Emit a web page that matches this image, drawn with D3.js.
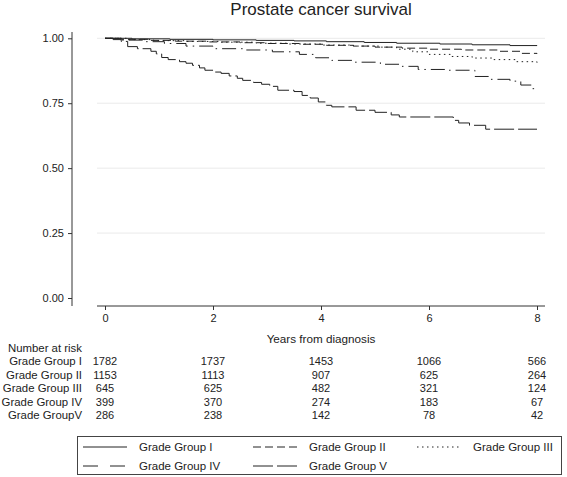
<!DOCTYPE html>
<html><head><meta charset="utf-8">
<script src="https://cdn.jsdelivr.net/npm/d3@7"></script>
<style>body{margin:0;background:#fff}text{font-family:"Liberation Sans",Arial,sans-serif;fill:#222}</style>
</head><body><svg id="c" width="567" height="477"></svg>
<script>
const groups = ["Grade Group I","Grade Group II","Grade Group III","Grade Group IV","Grade GroupV"];
const legendLabels = ["Grade Group I","Grade Group II","Grade Group III","Grade Group IV","Grade Group V"];
const xTicks = [0,2,4,6,8];
const yTicks = [0,0.25,0.5,0.75,1];
const yTickLabels = ["0.00","0.25","0.50","0.75","1.00"];
const timesI = [0,0.5,1.2,2.0,2.8,3.5,4.1,4.8,5.4,6.2,6.8,7.5,8];
const survI  = [1.0,0.998,0.996,0.994,0.992,0.990,0.987,0.984,0.981,0.978,0.975,0.972,0.971];
const timesII = [0,0.3,0.8,1.3,1.9,2.5,3.0,3.6,4.1,4.6,5.0,5.5,6.0,6.6,7.3,7.7,8];
const survII  = [1.0,0.996,0.992,0.989,0.986,0.983,0.980,0.977,0.973,0.970,0.966,0.962,0.958,0.955,0.950,0.942,0.940];
const timesIII = [0,0.4,0.9,1.5,2.1,2.8,3.4,4.0,4.6,5.1,5.4,5.7,6.0,6.4,6.8,7.2,7.6,8];
const survIII  = [1.0,0.995,0.991,0.988,0.985,0.981,0.978,0.974,0.970,0.966,0.958,0.948,0.938,0.930,0.924,0.918,0.910,0.906];
const timesIV = [0,0.3,0.7,1.1,1.5,2.0,2.6,3.1,3.6,3.9,4.2,4.6,5.1,5.5,5.8,6.3,6.85,7.1,7.5,7.7,7.9,8];
const survIV  = [1.0,0.993,0.987,0.980,0.970,0.960,0.955,0.948,0.938,0.925,0.915,0.908,0.900,0.892,0.880,0.877,0.853,0.842,0.835,0.820,0.806,0.804];
const timesV = [0,0.15,0.3,0.42,0.6,0.85,0.95,1.05,1.17,1.38,1.5,1.62,1.75,1.85,2.0,2.15,2.3,2.45,2.55,2.75,2.9,3.05,3.2,3.5,3.65,3.8,3.95,4.1,4.2,4.65,5.0,5.3,5.45,6.45,6.55,6.75,7.05,8];
const survV  = [1.0,0.995,0.988,0.968,0.96,0.95,0.94,0.926,0.918,0.91,0.904,0.896,0.886,0.877,0.87,0.865,0.855,0.846,0.838,0.83,0.823,0.815,0.8,0.795,0.78,0.77,0.755,0.742,0.736,0.723,0.715,0.705,0.697,0.684,0.674,0.665,0.65,0.65];
const riskI = [1782,1737,1453,1066,566];
const riskII = [1153,1113,907,625,264];
const riskIII = [645,625,482,321,124];
const riskIV = [399,370,274,183,67];
const riskV = [286,238,142,78,42];

const series = [
  {t:timesI,s:survI,dash:null},
  {t:timesII,s:survII,dash:"8,4"},
  {t:timesIII,s:survIII,dash:"1.5,3.5"},
  {t:timesIV,s:survIV,dash:"14,5,1.5,5"},
  {t:timesV,s:survV,dash:"20,4"}
];
const risks = [riskI,riskII,riskIII,riskIV,riskV];

const svg = d3.select("#c");
const x = d3.scaleLinear().domain([0,8]).range([105,537]);
const y = d3.scaleLinear().domain([0,1]).range([298,38.3]);

// title
svg.append("text").attr("x",321).attr("y",15).attr("text-anchor","middle").style("font-size","17px").text("Prostate cancer survival");

// grid
svg.append("g").selectAll("line").data(yTicks.filter(d=>d>0)).join("line")
  .attr("x1",97).attr("x2",545).attr("y1",d=>y(d)).attr("y2",d=>y(d))
  .attr("stroke","#eaeaea").attr("stroke-width",1);

// y axis
const yAxis = d3.axisLeft(y).tickValues(yTicks).tickSize(4).tickPadding(4).tickFormat((d,i)=>yTickLabels[i]);
const gy = svg.append("g").attr("transform","translate(72,0)").call(yAxis);
gy.select(".domain").remove();
gy.append("line").attr("x1",0).attr("x2",0).attr("y1",32).attr("y2",306).attr("stroke","#333");
gy.selectAll(".tick line").attr("stroke","#333");
gy.selectAll(".tick text").style("font-size","11px").style("font-family","Liberation Sans, Arial, sans-serif").attr("fill","#222");

// x axis
const xAxis = d3.axisBottom(x).tickValues(xTicks).tickSize(4).tickPadding(4);
const gx = svg.append("g").attr("transform","translate(0,306)").call(xAxis);
gx.select(".domain").remove();
gx.append("line").attr("x1",97).attr("x2",545).attr("y1",0).attr("y2",0).attr("stroke","#333");
gx.selectAll(".tick line").attr("stroke","#333");
gx.selectAll(".tick text").style("font-size","11px").style("font-family","Liberation Sans, Arial, sans-serif").attr("fill","#222");

svg.append("text").attr("x",321).attr("y",343).attr("text-anchor","middle").style("font-size","11.7px").text("Years from diagnosis");

// curves
const line = d3.line().x(d=>x(d[0])).y(d=>y(d[1])).curve(d3.curveStepAfter);
series.forEach(sr=>{
  const pts = sr.t.map((t,i)=>[t,sr.s[i]]);
  const p = svg.append("path").attr("d",line(pts)).attr("fill","none").attr("stroke","#222").attr("stroke-width",1);
  if(sr.dash) p.attr("stroke-dasharray",sr.dash);
});

// risk table
svg.append("text").attr("x",82).attr("y",352).attr("text-anchor","end").style("font-size","11.4px").text("Number at risk");
const rowY = [365,378.5,392,405.5,419];
groups.forEach((g,i)=>{
  svg.append("text").attr("x",82).attr("y",rowY[i]).attr("text-anchor","end").style("font-size","11.4px").text(g);
  svg.append("g").selectAll("text").data(risks[i]).join("text")
    .attr("x",(d,j)=>x(xTicks[j])).attr("y",rowY[i]).attr("text-anchor","middle").style("font-size","11px").text(d=>d);
});

// legend
svg.append("rect").attr("x",77.5).attr("y",436.5).attr("width",484).attr("height",38).attr("fill","none").attr("stroke","#444").attr("stroke-width",1);
const legPos = [[83,447],[253,447],[417,447],[83,466],[253,466]];
series.forEach((sr,i)=>{
  const [lx,ly] = legPos[i];
  const l = svg.append("line").attr("x1",lx).attr("x2",lx+44).attr("y1",ly).attr("y2",ly).attr("stroke","#222").attr("stroke-width",1);
  if(sr.dash) l.attr("stroke-dasharray",i===3?"15,12":sr.dash);
  svg.append("text").attr("x",lx+56).attr("y",ly+4).style("font-size","11.5px").text(legendLabels[i]);
});
</script></body></html>
